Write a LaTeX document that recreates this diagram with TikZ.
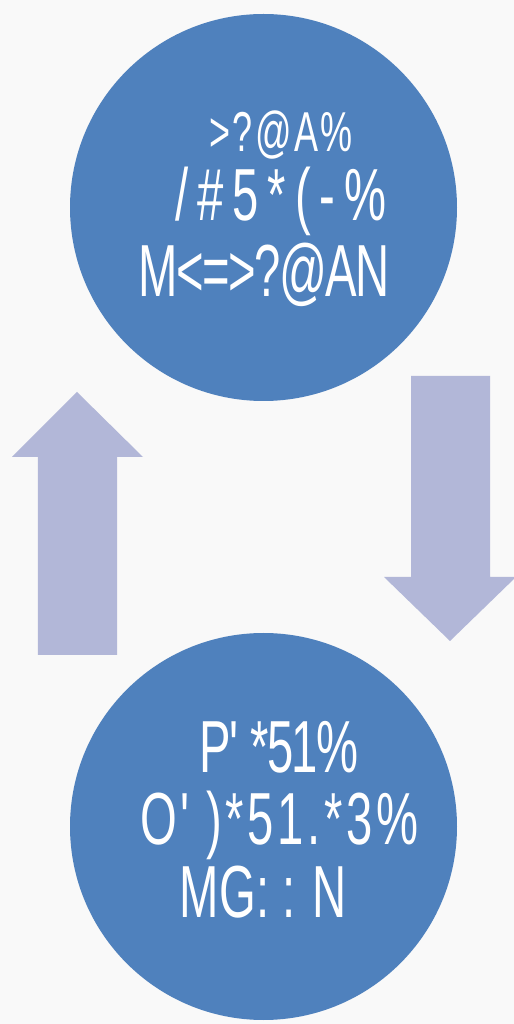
\documentclass[tikz,border=0pt]{standalone}
\usepackage{fontspec}
\newfontfamily\narrowfont[FakeStretch=0.64]{Liberation Sans}
\definecolor{cyclebg}{HTML}{F9F9F9}
\definecolor{cycleblue}{HTML}{4F81BD}
\definecolor{cyclearrow}{HTML}{B2B7D8}
\tikzset{
	phase/.style={circle, fill=cycleblue, minimum size=7.74cm, inner sep=0pt},
	phasetext/.style={anchor=base, text=white, inner sep=0pt, font=\narrowfont\fontsize{42}{46}\selectfont},
	spaced/.style={font=\narrowfont\fontsize{42}{46}\selectfont\addfontfeature{LetterSpace=#1}},
	blockarrow/.style={fill=cyclearrow}
}
\begin{document}
\begin{tikzpicture}
	\fill[cyclebg] (0,0) rectangle (10.28,20.48); %fondo
	\useasboundingbox (0,0) rectangle (10.28,20.48);
	\node[phase] (top) at (5.27,16.33) {}; %circulo superior
	\node[phase] (bottom) at (5.27,3.95) {}; %circulo inferior
	\fill[blockarrow] (0.76,7.38) -- (2.34,7.38) -- (2.34,11.34) -- (2.86,11.34) -- (1.54,12.64) -- (0.24,11.34) -- (0.76,11.34) -- cycle; %flecha arriba
	\fill[blockarrow] (8.22,12.96) -- (9.80,12.96) -- (9.80,8.94) -- (10.32,8.94) -- (9.00,7.66) -- (7.68,8.94) -- (8.22,8.94) -- cycle; %flecha abajo
	\node[phasetext, font=\narrowfont\fontsize{32}{35}\selectfont\addfontfeature{LetterSpace=4}] (top1) at (5.62,17.44) {>?@A\%};
	\node[phasetext, spaced=12] (top2) at (5.62,16.06) {/\#5*(-\%};
	\node[phasetext, spaced=-2] (top3) at (5.28,14.54) {M<=>?@AN};
	\node[phasetext, spaced=-2] (bot1) at (5.58,5.02) {P' *51\%};
	\node[phasetext, spaced=5] (bot2) at (5.59,3.58) {O' )*51.*3\%};
	\node[phasetext] (bot3) at (5.27,2.12) {MG: : N};
\end{tikzpicture}
\end{document}
